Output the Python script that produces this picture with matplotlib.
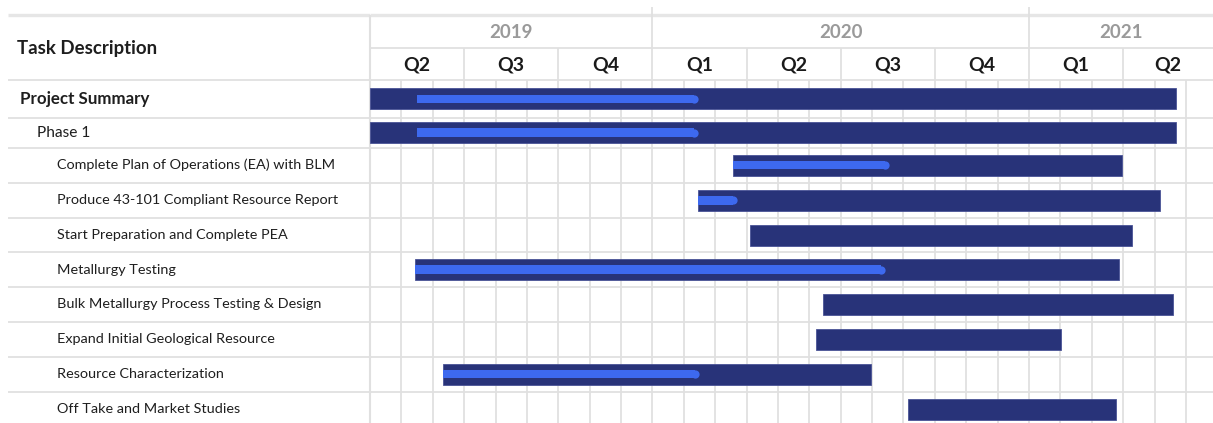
import matplotlib
matplotlib.use("Agg")
import matplotlib.pyplot as plt

# ---------------- data ----------------
tasks = [
    "Project Summary",
    "Phase 1",
    "Complete Plan of Operations (EA) with BLM",
    "Produce 43-101 Compliant Resource Report",
    "Start Preparation and Complete PEA",
    "Metallurgy Testing",
    "Bulk Metallurgy Process Testing & Design",
    "Expand Initial Geological Resource",
    "Resource Characterization",
    "Off Take and Market Studies",
]
task_level = [0, 1, 2, 2, 2, 2, 2, 2, 2, 2]
# months since 1 April 2019
task_start = [0.0, 0.0, 11.56, 10.46, 12.11, 1.43, 14.45, 14.21, 2.34, 17.16]
task_end = [25.69, 25.69, 23.98, 25.17, 24.27, 23.87, 25.59, 22.02, 15.96, 23.77]
progress_start = [1.51, 1.51, 11.56, 10.46, None, 1.43, None, None, 2.34, None]
progress_end = [10.46, 10.46, 16.55, 11.69, None, 16.43, None, None, 10.49, None]

years = ["2019", "2020", "2021"]
year_start = [0, 9, 21]
quarters = ["Q2", "Q3", "Q4", "Q1", "Q2", "Q3", "Q4", "Q1", "Q2"]
quarter_start = [0, 3, 6, 9, 12, 15, 18, 21, 24]
n_months = 26

# ---------------- layout ----------------
W, H = 1213, 423
label_w = 370
px_per_month = 31.38
xmax = (W - label_w) / px_per_month
row_edges = [80, 117.7, 147.7, 182.7, 218, 252.3, 287, 321.7, 356.7, 391.7, 426.7]
row_centers = [(a + b) / 2 for a, b in zip(row_edges[:-1], row_edges[1:])]
header_top, header_mid, header_bot = 15, 48, 80

dark = "#283379"
bright = "#3d69ef"
grid = "#e0e0e0"
font = "Lato"

fig = plt.figure(figsize=(W / 100, H / 100), dpi=100)
axl = fig.add_axes([0, 0, label_w / W, 1])
ax = fig.add_axes([label_w / W, 0, 1 - label_w / W, 1])
for a in (axl, ax):
    a.set_ylim(H, 0)
    a.axis("off")
axl.set_xlim(0, label_w)
ax.set_xlim(0, xmax)

# horizontal lines
axl.hlines([header_top], 8, label_w, color="#e6e6e6", lw=2.4)
axl.hlines([header_bot] + row_edges[1:], 8, label_w, color=grid, lw=1.3)
ax.hlines([header_top], 0, xmax, color="#e6e6e6", lw=2.4)
ax.hlines([header_mid], 0, xmax, color=grid, lw=1.3)
ax.hlines([header_bot] + row_edges[1:], 0, xmax, color=grid, lw=1.3)

# vertical lines
ax.vlines([0], header_top, H, color=grid, lw=1.5, clip_on=False)
months = [m for m in range(1, n_months + 1)]
ax.vlines(months, header_bot, H, color=grid, lw=1.3)
ax.vlines([q for q in quarter_start if q not in year_start], header_mid, header_bot, color=grid, lw=1.3)
ax.vlines([y for y in year_start if y > 0], 7, header_bot, color=grid, lw=1.3)

# header texts
axl.text(17, (header_top + header_bot) / 2 + 1, "Task Description", family=font,
         fontweight="bold", fontsize=13.4, color="#1e1e1e", va="center", ha="left")
year_end = year_start[1:] + [xmax]
for y, s, e in zip(years, year_start, year_end):
    ax.text((s + e) / 2, (header_top + header_mid) / 2 + 1, y, family=font,
            fontweight="bold", fontsize=13.5, color="#9a9a9a", ha="center", va="center")
q_end = quarter_start[1:] + [xmax]
for q, s, e in zip(quarters, quarter_start, q_end):
    ax.text((s + e) / 2, (header_mid + header_bot) / 2 + 1, q, family=font,
            fontweight="bold", fontsize=14, color="#1a1a1a", ha="center", va="center")

# task labels
indent = [20, 37, 57]
for t, lvl, yc in zip(tasks, task_level, row_centers):
    axl.text(indent[lvl], yc, t, family=font,
             fontweight="bold" if lvl == 0 else "normal",
             fontsize=12.2 if lvl == 0 else (11.2 if lvl == 1 else 10.4),
             color="#1e1e1e", va="center", ha="left")

# bars
widths = [e - s for s, e in zip(task_start, task_end)]
ax.barh(row_centers, widths, left=task_start, height=21, color=dark,
        edgecolor="#4a5396", linewidth=0.6, zorder=3)

inner_h = 8.5
r = (inner_h / 2) / px_per_month
for yc, ps, pe in zip(row_centers, progress_start, progress_end):
    if ps is None:
        continue
    ax.barh([yc], [pe - r - ps], left=[ps], height=inner_h, color=bright, zorder=4, linewidth=0)
    ax.plot([pe - r], [yc], marker="o", markersize=inner_h * 72 / 100 * 0.97,
            color=bright, markeredgewidth=0, zorder=4)

fig.savefig("out.png", dpi=100)
